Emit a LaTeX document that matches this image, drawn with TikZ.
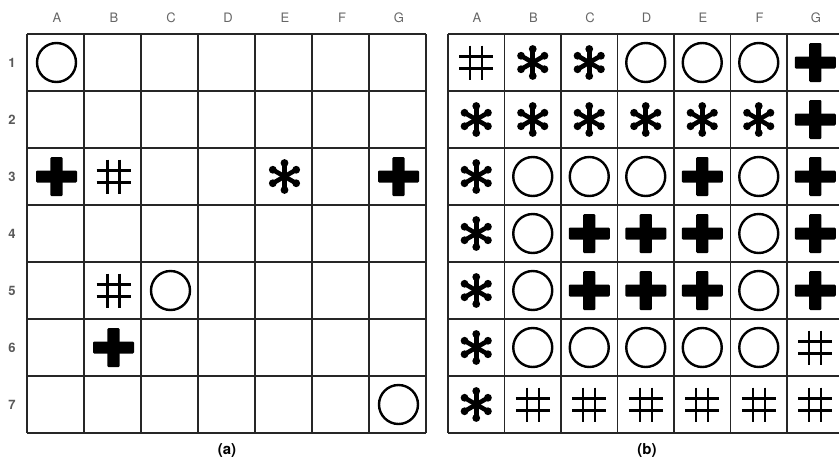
\documentclass[tikz,border=0pt]{standalone}
\usepackage{fontspec}
\setmainfont{TeX Gyre Heros}
\tikzset{
  gridline/.style={line width=1.4pt, draw=black!85},
  collabel/.style={font=\fontsize{13}{13}\selectfont, text=black!60, anchor=center},
  rowlabel/.style={font=\bfseries\fontsize{13}{13}\selectfont, text=black!65, anchor=center},
  caption/.style={font=\bfseries\fontsize{15}{15}\selectfont, anchor=center},
  pics/symring/.style={code={\draw[line width=2.4pt] (0,0) circle (19.5pt);}},
  pics/symplus/.style={code={
    \fill[rounded corners=1.2pt] (-20.5,-6) rectangle (20.5,6);
    \fill[rounded corners=1.2pt] (-6.2,-19.5) rectangle (6.2,19.5);}},
  pics/symhash/.style={code={
    \draw[line width=2.3pt] (-6,-17) -- (-6,17) (6,-17) -- (6,17)
      (-17,-6) -- (17,-6) (-17,6) -- (17,6);}},
  pics/symstar/.style={code={
    \fill (0,0) circle (4.5pt);
    \foreach \a in {90,30,-30,-90,150,210} {
      \draw[line width=4.6pt] (0,0) -- (\a:13.5);
      \fill (\a:13.5) circle (3.9pt);}}}
}
\begin{document}
\begin{tikzpicture}[x=1pt, y=-1pt]
\useasboundingbox (0,0) rectangle (839,464);
% ---------- grid (a) ----------
\foreach \i in {0,...,7} {
  \draw[gridline] (27+57*\i,34) -- (27+57*\i,433);
  \draw[gridline] (27,34+57*\i) -- (426,34+57*\i);
}
\foreach \c [count=\i from 0] in {A,B,C,D,E,F,G} {
  \node[collabel] (la\c) at (57+57*\i,18) {\c};
}
\foreach \r in {1,...,7} {
  \node[rowlabel] (lr\r) at (12,63+57*\r-57) {\r};
}
% symbols of (a): column index, row index
\newcommand\acell[2]{(56.5+57*#1-57, 62.5+57*#2-57)}
\pic at \acell{1}{1} {symring};
\pic at \acell{1}{3} {symplus};
\pic at \acell{2}{3} {symhash};
\pic at \acell{5}{3} {symstar};
\pic at \acell{7}{3} {symplus};
\pic at \acell{2}{5} {symhash};
\pic at \acell{3}{5} {symring};
\pic at \acell{2}{6} {symplus};
\pic at \acell{7}{7} {symring};
\node[caption] (capa) at (227,451) {(a)};
% ---------- grid (b) ----------
\foreach \i in {0,...,7} {
  \draw[gridline] (448+56.5*\i,34) -- (448+56.5*\i,433);
  \draw[gridline] (448,34+57*\i) -- (843.5,34+57*\i);
}
\foreach \c [count=\i from 0] in {A,B,C,D,E,F,G} {
  \node[collabel] (lb\c) at (477+56.5*\i,18) {\c};
}
\newcommand\bcell[2]{(476.25+56.5*#1-56.5, 62.5+57*#2-57)}
\foreach \s [count=\i] in {symhash,symstar,symstar,symring,symring,symring,symplus} {\pic at \bcell{\i}{1} {\s};}
\foreach \s [count=\i] in {symstar,symstar,symstar,symstar,symstar,symstar,symplus} {\pic at \bcell{\i}{2} {\s};}
\foreach \s [count=\i] in {symstar,symring,symring,symring,symplus,symring,symplus} {\pic at \bcell{\i}{3} {\s};}
\foreach \s [count=\i] in {symstar,symring,symplus,symplus,symplus,symring,symplus} {\pic at \bcell{\i}{4} {\s};}
\foreach \s [count=\i] in {symstar,symring,symplus,symplus,symplus,symring,symplus} {\pic at \bcell{\i}{5} {\s};}
\foreach \s [count=\i] in {symstar,symring,symring,symring,symring,symring,symhash} {\pic at \bcell{\i}{6} {\s};}
\foreach \s [count=\i] in {symstar,symhash,symhash,symhash,symhash,symhash,symhash} {\pic at \bcell{\i}{7} {\s};}
\node[caption] (capb) at (647,451) {(b)};
\end{tikzpicture}
\end{document}
